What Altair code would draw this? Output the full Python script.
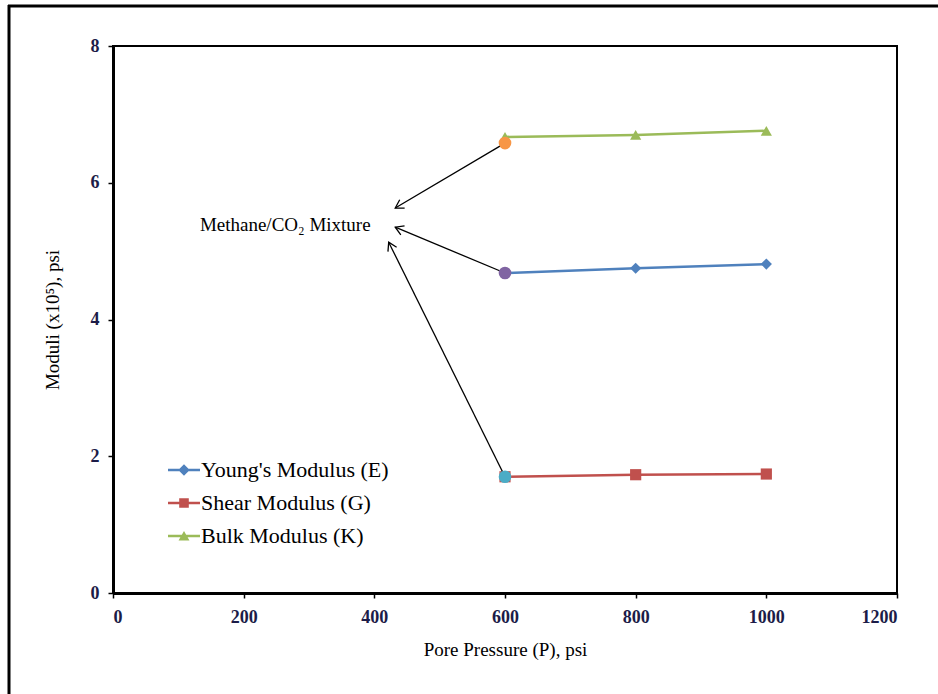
import math
import altair as alt
import pandas as pd

# ---- data ----
pressure = [600, 800, 1000]
youngs = [4.68, 4.75, 4.81]
shear = [1.70, 1.73, 1.74]
bulk = [6.67, 6.70, 6.76]
series_names = ["Young's Modulus (E)", "Shear Modulus (G)", "Bulk Modulus (K)"]

mixture_pressure = [600, 600, 600]
mixture_moduli = [6.58, 4.68, 1.70]

annotation_text = "Methane/CO\u2082 Mixture"
annotation_x = [133]
annotation_y = [5.38]
arrow_tip_x = [432, 432, 422]
arrow_tip_y = [5.63, 5.35, 5.13]

x_ticks = [0, 200, 400, 600, 800, 1000, 1200]
y_ticks = [0, 2, 4, 6, 8]

# ---- styles ----
series_colors = ["#4F81BD", "#C0504D", "#9BBB59"]
series_markers = ["diamond", "square", "triangle-up"]
mixture_colors = ["#F79646", "#8064A2", "#4BACC6"]
bar = "M-1,-0.085L1,-0.085L1,0.085L-1,0.085Z "
legend_shapes = [
    bar + "M-0.36,0L0,-0.36L0.36,0L0,0.36Z",
    bar + "M-0.3,-0.3L0.3,-0.3L0.3,0.3L-0.3,0.3Z",
    bar + "M-0.34,0.28L0,-0.32L0.34,0.28Z",
]
FONT = "Liberation Serif"
W, H = 784, 547
XMAX, YMAX = 1200, 8

rows = []
for name, vals, mk, col in zip(series_names, [youngs, shear, bulk], series_markers, series_colors):
    for p, v in zip(pressure, vals):
        rows.append({"series": name, "P": p, "M": v, "mk": mk, "col": col})
df = pd.DataFrame(rows)

arrows = []
for px, py, c, tx, ty in zip(mixture_pressure, mixture_moduli, mixture_colors,
                             arrow_tip_x, arrow_tip_y):
    dx = (tx - px) * W / XMAX
    dy = -(ty - py) * H / YMAX
    ang = math.degrees(math.atan2(dy, dx)) % 360
    arrows.append({"P": px, "M": py, "c": c, "tx": tx, "ty": ty, "ang": ang})
adf = pd.DataFrame(arrows)

tdf = pd.DataFrame({"x": annotation_x, "y": annotation_y, "t": [annotation_text]})

xs = alt.Scale(domain=[0, XMAX], nice=False, zero=False)
ys = alt.Scale(domain=[0, YMAX], nice=False, zero=False)

X = alt.X("P:Q", scale=xs, axis=alt.Axis(values=x_ticks, format="d",
                                         title="Pore Pressure (P), psi"))
Y = alt.Y("M:Q", scale=ys, axis=alt.Axis(values=y_ticks, format="d",
                                         title="Moduli (x10\u2075), psi"))

lines = alt.Chart(df).mark_line(strokeWidth=2.5).encode(
    x=X, y=Y, color=alt.Color("col:N", scale=None),
    detail="series:N", order="P:Q")

markers = alt.Chart(df).mark_point(filled=True, opacity=1, size=125).encode(
    x="P:Q", y="M:Q",
    color=alt.Color("col:N", scale=None),
    shape=alt.Shape("mk:N", scale=None))

leg = dict(title=None, orient="none", legendX=55, legendY=408, padding=0,
           symbolSize=1024, symbolStrokeWidth=0, labelFont=FONT, labelFontSize=22,
           labelColor="black", labelOffset=1, rowPadding=6, labelLimit=0)
legend_layer = alt.Chart(df).transform_calculate(xo="-1000").mark_point(
    filled=True, opacity=1, clip=True, size=100).encode(
    x="xo:Q", y="M:Q",
    color=alt.Color("series:N", scale=alt.Scale(domain=series_names, range=series_colors),
                    legend=alt.Legend(**leg)),
    shape=alt.Shape("series:N", scale=alt.Scale(domain=series_names, range=legend_shapes),
                    legend=alt.Legend(**leg)))

arrow_lines = alt.Chart(adf).mark_rule(color="black", strokeWidth=1.3).encode(
    x="P:Q", y="M:Q", x2="tx:Q", y2="ty:Q")

circles = alt.Chart(adf).mark_circle(size=160, opacity=1).encode(
    x="P:Q", y="M:Q", color=alt.Color("c:N", scale=None))

heads = alt.Chart(adf).mark_point(
    shape="M-1,-0.6L0,0L-1,0.6", filled=False, color="black", strokeWidth=1.3,
    size=260, opacity=1).encode(
    x="tx:Q", y="ty:Q", angle=alt.Angle("ang:Q", scale=None))

label = alt.Chart(tdf).mark_text(align="left", baseline="middle", font=FONT,
                                 fontSize=19, color="black").encode(
    x="x:Q", y="y:Q", text="t:N")

one = pd.DataFrame({"a": [0]})
frame_left = alt.Chart(one).mark_rule(color="black", strokeWidth=3).encode(
    x=alt.value(-104), y=alt.value(-41), y2=alt.value(660))
frame_top = alt.Chart(one).mark_rule(color="black", strokeWidth=3).encode(
    x=alt.value(-105), x2=alt.value(840), y=alt.value(-40))

chart = alt.layer(lines, markers, arrow_lines, circles, heads, label, legend_layer,
                  frame_left, frame_top).properties(
    width=W, height=H,
    autosize=alt.AutoSizeParams(type="none"),
    padding={"left": 113, "top": 46, "right": 41, "bottom": 101},
    background="white",
).configure_view(stroke="black", strokeWidth=2).configure_axis(
    grid=False, domainColor="black", domainWidth=3, tickColor="black",
    tickWidth=1.5, tickSize=5, labelFont=FONT, labelFontSize=18,
    labelFontWeight="bold", labelColor="#1C1C48", labelPadding=8,
    titleFont=FONT, titleFontSize=19, titleFontWeight="normal", titleColor="black",
).configure_axisY(titlePadding=28, labelPadding=9).configure_axisX(titlePadding=14, labelPadding=10)

chart.save("out.html", embed_options={"renderer": "svg", "actions": False})
